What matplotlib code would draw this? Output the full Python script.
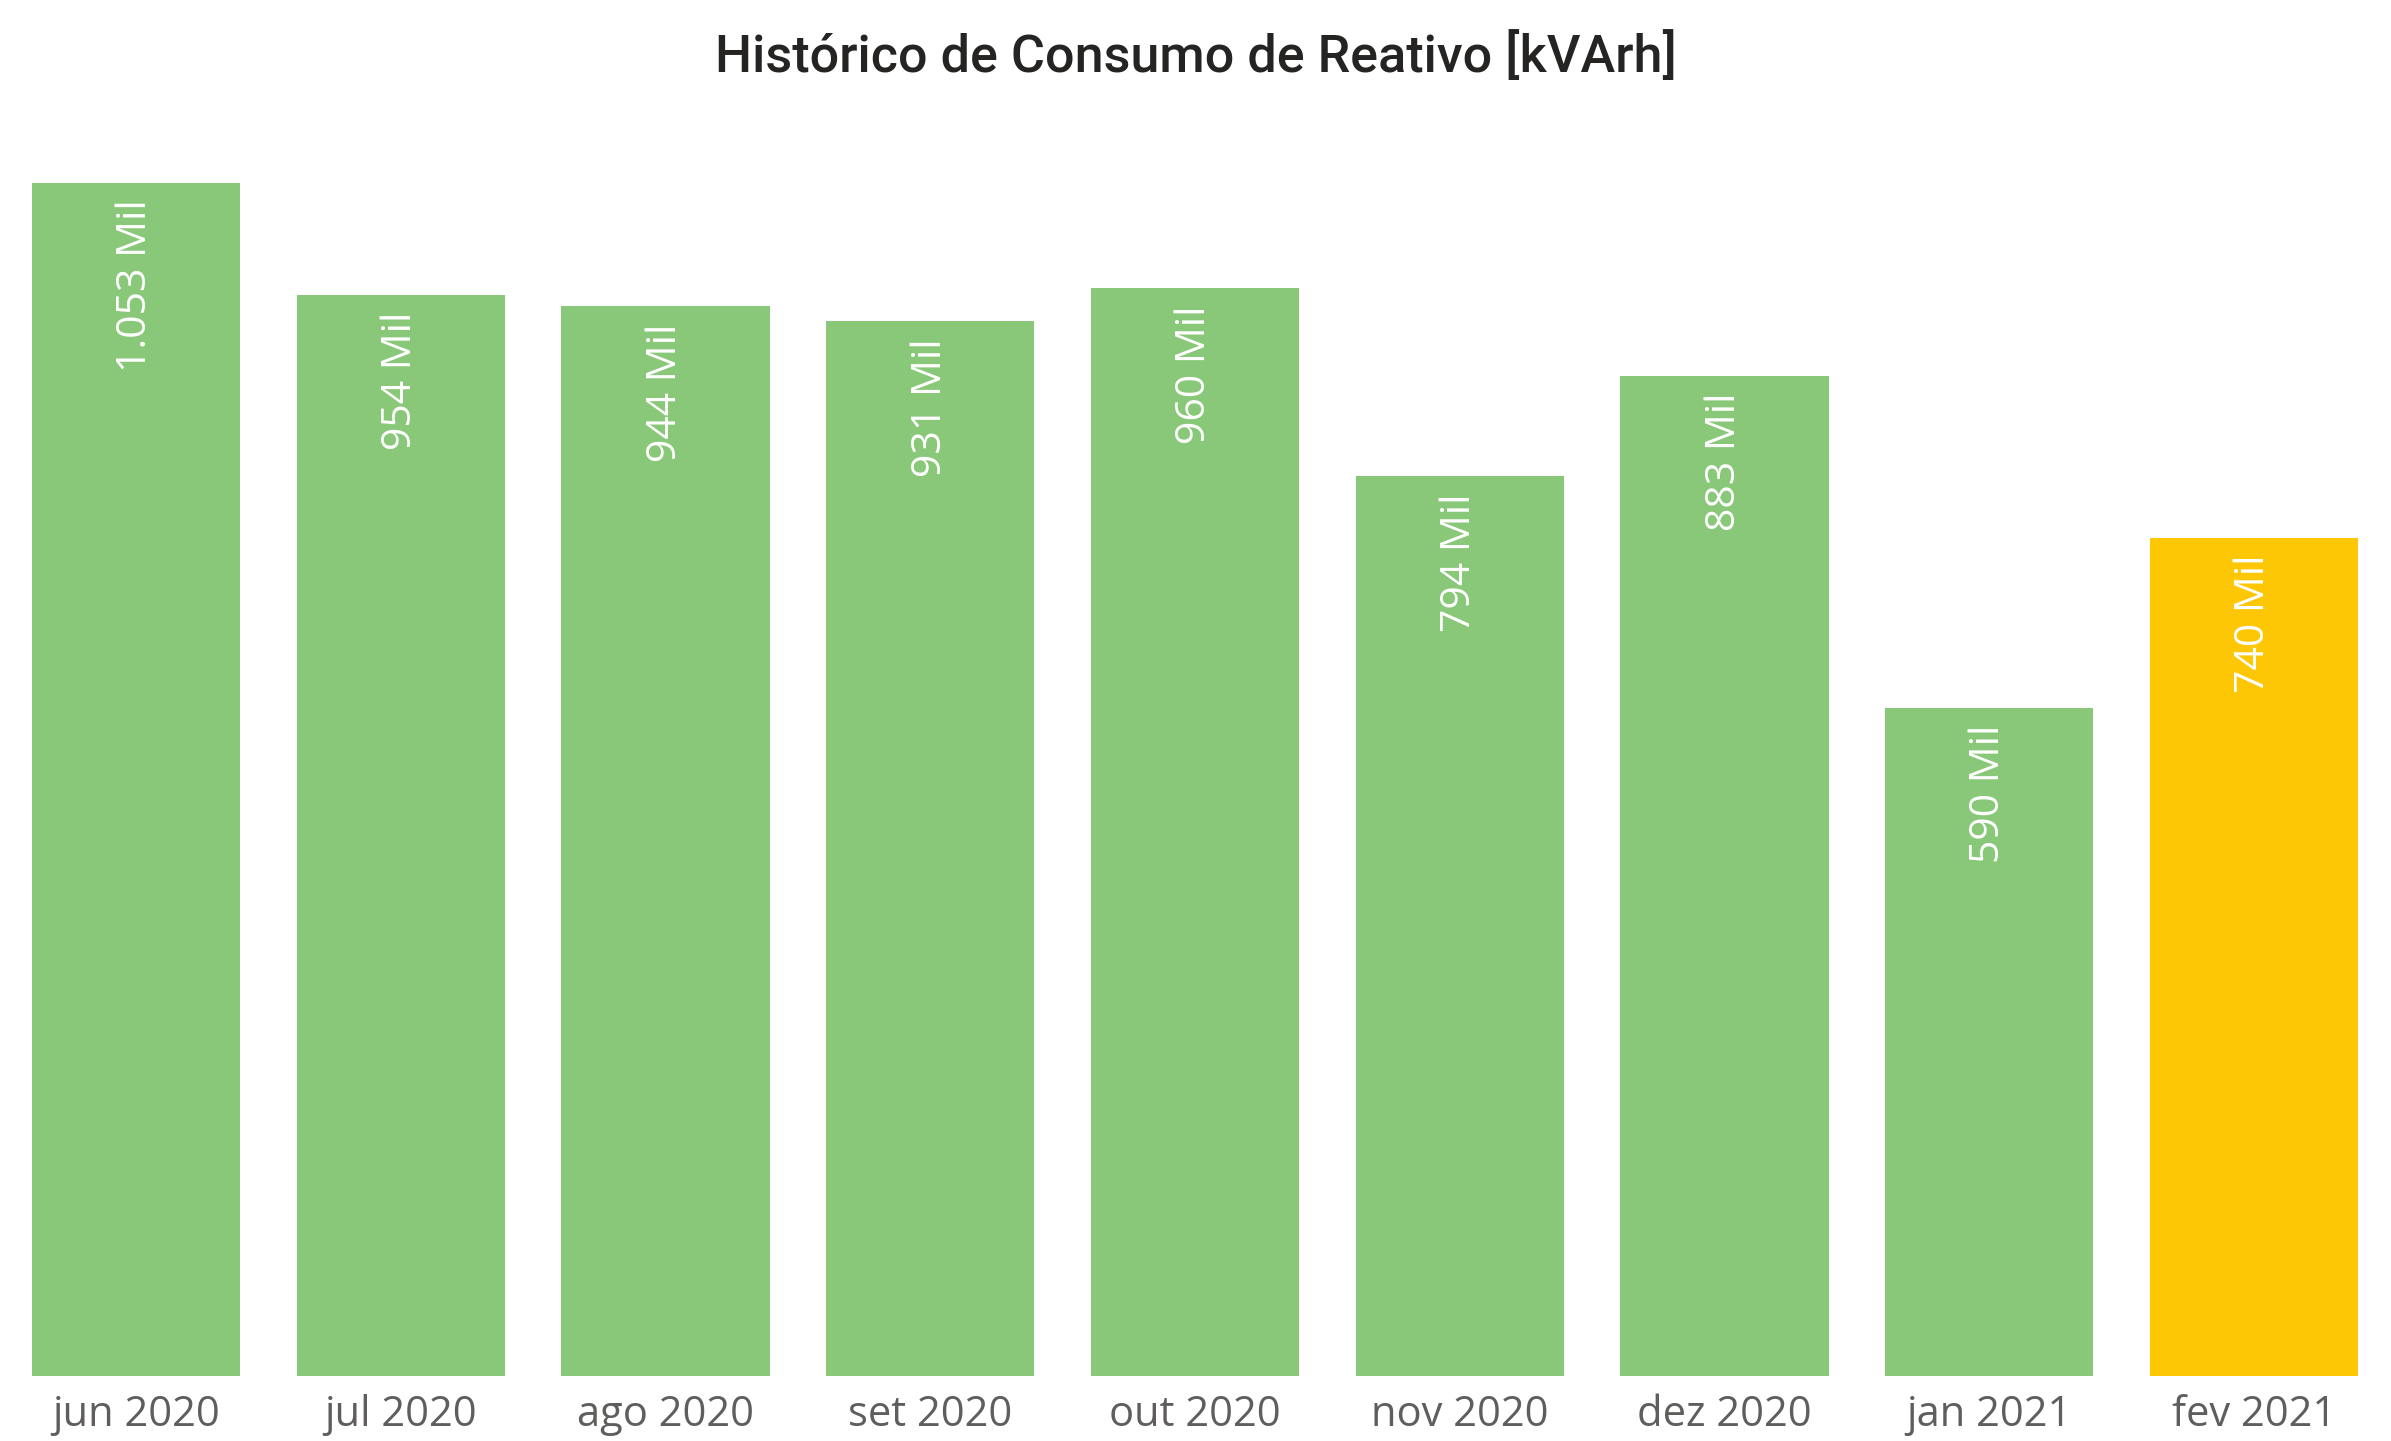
import matplotlib.pyplot as plt
import numpy as np

meses = ['jun 2020', 'jul 2020', 'ago 2020', 'set 2020', 'out 2020',
         'nov 2020', 'dez 2020', 'jan 2021', 'fev 2021']
consumo_mil = [1053, 954, 944, 931, 960, 794, 883, 590, 740]
rotulos = ['1.053 Mil', '954 Mil', '944 Mil', '931 Mil', '960 Mil',
           '794 Mil', '883 Mil', '590 Mil', '740 Mil']
cores = ['#88C878'] * 8 + ['#FDC706']

W, H = 2391, 1441
fig = plt.figure(figsize=(W / 100, H / 100), dpi=100)

largura = 0.786
# axes placed in pixels: bars from x=32 to 2358, baseline at y=1376
ymax = 1100
px_per_unit = (1376 - 183) / 1053
top_px = 1376 - ymax * px_per_unit
ax = fig.add_axes([32 / W, (H - 1376) / H, (2358 - 32) / W, (1376 - top_px) / H])

x = np.arange(len(meses))
bars = ax.bar(x, consumo_mil, width=largura, color=cores)
ax.set_xlim(-largura / 2, len(meses) - 1 + largura / 2)
ax.set_ylim(0, ymax)

for b, txt in zip(bars, rotulos):
    ax.annotate(txt, (b.get_x() + b.get_width() / 2, b.get_height()),
                xytext=(0, -12), textcoords='offset points',
                ha='center', va='top', rotation=90,
                color='white', fontsize=29.5, family='Open Sans')

ax.set_xticks(x)
ax.set_xticklabels(meses, fontsize=30, color='#605E5C', family='Open Sans')
ax.tick_params(axis='x', length=0, pad=13)
ax.set_yticks([])
for s in ax.spines.values():
    s.set_visible(False)

fig.text(0.5, 1 - 58 / H, 'Histórico de Consumo de Reativo [kVArh]',
         ha='center', va='center', fontsize=37.5, color='#252423',
         family='Roboto', fontweight='medium')

fig.savefig('out.png', dpi=100, facecolor='white')
